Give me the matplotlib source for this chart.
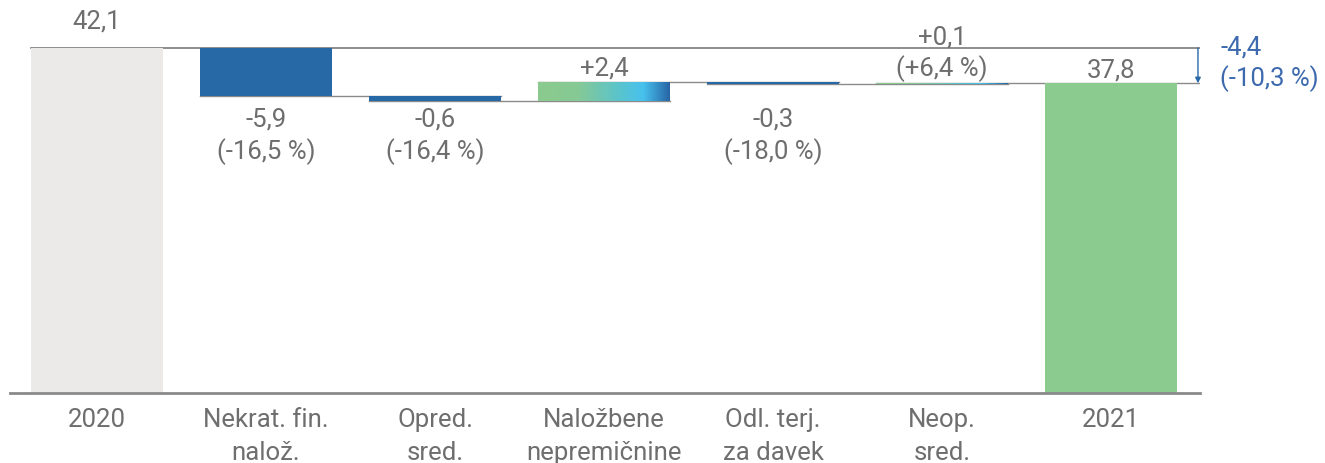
import numpy as np
import matplotlib
matplotlib.use("Agg")
import matplotlib.pyplot as plt
from matplotlib.colors import LinearSegmentedColormap
from matplotlib.patches import Rectangle

plt.rcParams['font.family'] = ['Roboto', 'DejaVu Sans']

categories = ['2020', 'Nekrat. fin.\nnalož.', 'Opred.\nsred.', 'Naložbene\nnepremičnine',
              'Odl. terj.\nza davek', 'Neop.\nsred.', '2021']
start_value = 42.1
changes = [-5.9, -0.6, 2.4, -0.3, 0.1]
change_pct = [-16.5, -16.4, None, -18.0, 6.4]
end_value = 37.8
total_change = -4.4
total_pct = -10.3

GREY_TXT = '#6e6e6e'
BLUE = '#2769a7'
GREEN = '#8bcb8f'
START_GREY = '#ebeae8'
LINE = '#8a8a8a'
FS = 18.5
grad = LinearSegmentedColormap.from_list(
    'grad', [(0, '#8ccb8e'), (0.3, '#86c995'), (0.6, '#5cc4c9'), (0.8, '#47c1ee'), (1.0, '#2765a5')])


def fmt(v, sign=True):
    s = f"{v:+.1f}" if sign else f"{v:.1f}"
    return s.replace('.', ',')


fig = plt.figure(figsize=(13.25, 4.63), dpi=100)
ax = fig.add_axes([10 / 1325, 70 / 463, 1190 / 1325, 393 / 463])
w = 0.78
x = np.arange(len(categories))
xmax = 6.527

# start bar
ax.bar(x[0], start_value, width=w, color=START_GREY, zorder=2)
ax.plot([x[0] - w / 2, xmax], [start_value, start_value], color='#7a7a7a', lw=1.2, zorder=1)
ax.annotate(fmt(start_value, False), (x[0], start_value), xytext=(0, 27), textcoords='offset pixels',
            ha='center', va='center', fontsize=FS, color=GREY_TXT)

level = start_value
for i, ch in enumerate(changes):
    xi = x[i + 1]
    new = level + ch
    lo, hi = min(level, new), max(level, new)
    if ch < 0:
        ax.bar(xi, hi - lo, bottom=lo, width=w, color=BLUE, zorder=2)
    else:
        rect = Rectangle((xi - w / 2, lo), w, hi - lo, facecolor='none', edgecolor='none')
        ax.add_patch(rect)
        im = ax.imshow(np.linspace(0, 1, 256).reshape(1, -1), cmap=grad, aspect='auto',
                       extent=(xi - w / 2, xi + w / 2, lo, hi), zorder=2)
        im.set_clip_path(rect)
    # connector to the next bar
    ax.plot([xi - w / 2, xi + 1 + w / 2 if i < len(changes) - 1 else xmax], [new, new],
            color=LINE, lw=1.0, zorder=1)
    txt = fmt(ch) + ('\n(' + fmt(change_pct[i]) + ' %)' if change_pct[i] is not None else '')
    if ch < 0:
        ax.text(xi, 34.8, txt, ha='center', va='top', fontsize=FS, color=GREY_TXT,
                linespacing=1.3)
    else:
        ax.annotate(txt, (xi, hi), xytext=(0, 1), textcoords='offset pixels',
                    ha='center', va='bottom', fontsize=FS, color=GREY_TXT, linespacing=1.3)
    level = new

# end bar
ax.bar(x[-1], end_value, width=w, color=GREEN, zorder=2)
ax.annotate(fmt(end_value, False), (x[-1], end_value), xytext=(0, 1), textcoords='offset pixels',
            ha='center', va='bottom', fontsize=FS, color=GREY_TXT)

# total change arrow
ax.annotate('', xy=(xmax - 0.012, end_value), xytext=(xmax - 0.012, start_value),
            arrowprops=dict(arrowstyle='-|>', color=BLUE, lw=1.0, mutation_scale=8,
                            shrinkA=0, shrinkB=0), annotation_clip=False)
ax.text(xmax + 0.12, start_value - 1.9, fmt(total_change) + '\n(' + fmt(total_pct) + ' %)',
        ha='left', va='center', fontsize=FS, color='#3d6aae', linespacing=1.3,
        clip_on=False)

ax.set_xlim(-0.515, xmax)
ax.set_ylim(0, 47.96)
ax.set_xticks(x)
ax.set_xticklabels(categories, fontsize=FS, color=GREY_TXT, linespacing=1.45)
ax.tick_params(axis='x', length=0, pad=11)
ax.set_yticks([])
for s in ['top', 'right', 'left']:
    ax.spines[s].set_visible(False)
ax.spines['bottom'].set_color('#8a8a8a')
ax.spines['bottom'].set_linewidth(2)

fig.savefig('out.png', dpi=100)
